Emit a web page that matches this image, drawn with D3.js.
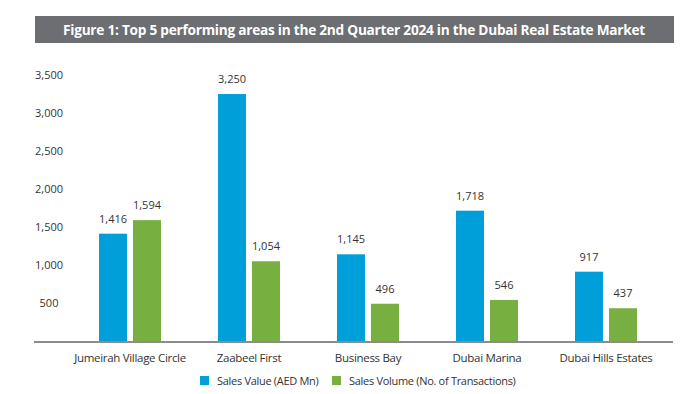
<!DOCTYPE html>
<html>
<head>
<meta charset="utf-8">
<script src="https://cdn.jsdelivr.net/npm/d3@7"></script>
<style>
  body { margin: 0; background: #fff; }
  svg { display: block; }
  .lbl { font-family: "Open Sans", sans-serif; fill: #333; }
</style>
</head>
<body>
<svg id="chart" width="698" height="394"></svg>
<script>
const areas = ['Jumeirah Village Circle', 'Zaabeel First', 'Business Bay', 'Dubai Marina', 'Dubai Hills Estates'];
const seriesNames = ['Sales Value (AED Mn)', 'Sales Volume (No. of Transactions)'];
const salesValue = [1416, 3250, 1145, 1718, 917];
const salesVolume = [1594, 1054, 496, 546, 437];
const yTicks = [500, 1000, 1500, 2000, 2500, 3000, 3500];
const titleText = 'Figure 1: Top 5 performing areas in the 2nd Quarter 2024 in the Dubai Real Estate Market';

const colors = ['#009fda', '#77b041'];
const fmt = d3.format(',');

const svg = d3.select('#chart');

// title bar
svg.append('rect')
  .attr('x', 35).attr('y', 16)
  .attr('width', 639).attr('height', 27)
  .attr('fill', '#6d6e71');
svg.append('text')
  .attr('x', 354).attr('y', 35)
  .attr('text-anchor', 'middle')
  .attr('fill', '#fff')
  .attr('font-family', '"Open Sans", sans-serif')
  .attr('font-weight', 'bold')
  .attr('font-size', 13.5)
  .attr('letter-spacing', -0.25)
  .attr('textLength', 582)
  .attr('lengthAdjust', 'spacingAndGlyphs')
  .text(titleText);

const x = d3.scaleBand().domain(areas).range([70.5, 665.5]);
const xSub = d3.scaleBand().domain(seriesNames).range([0, 62]).paddingInner(0.176);
const y = d3.scaleLinear().domain([0, 3500]).range([341.5, 75]);

// y axis labels
const yAxis = svg.append('g')
  .attr('transform', 'translate(49,0)')
  .call(d3.axisLeft(y).tickValues(yTicks).tickSize(0).tickPadding(0).tickFormat(fmt));
yAxis.select('.domain').remove();
yAxis.selectAll('text')
  .attr('class', 'lbl')
  .attr('text-anchor', 'middle')
  .attr('font-size', 11)
  .style('fill', '#333');

const rows = areas.map((a, i) => ({ area: a, values: [salesValue[i], salesVolume[i]] }));

const groups = svg.append('g').selectAll('g')
  .data(rows)
  .join('g')
  .attr('transform', d => `translate(${x(d.area) + x.bandwidth() / 2 - 31},0)`);

groups.selectAll('rect')
  .data(d => d.values.map((v, k) => ({ key: seriesNames[k], v, k })))
  .join('rect')
  .attr('x', d => xSub(d.key))
  .attr('y', d => y(d.v))
  .attr('width', xSub.bandwidth())
  .attr('height', d => y(0) - y(d.v))
  .attr('fill', d => colors[d.k]);

groups.selectAll('text')
  .data(d => d.values.map((v, k) => ({ key: seriesNames[k], v, k })))
  .join('text')
  .attr('class', 'lbl')
  .attr('x', d => xSub(d.key) + xSub.bandwidth() / 2)
  .attr('y', d => y(d.v) - 11)
  .attr('text-anchor', 'middle')
  .attr('font-size', 11)
  .text(d => fmt(d.v));

// baseline
svg.append('line')
  .attr('x1', 34).attr('x2', 673)
  .attr('y1', 342).attr('y2', 342)
  .attr('stroke', '#8c8c8c')
  .attr('stroke-width', 2);

// category labels
const xAxis = svg.append('g')
  .attr('transform', 'translate(0,342)')
  .call(d3.axisBottom(x).tickSize(0).tickPadding(0));
xAxis.select('.domain').remove();
xAxis.selectAll('text')
  .attr('class', 'lbl')
  .attr('dy', 0)
  .attr('y', 20)
  .attr('font-size', 11.5)
  .attr('letter-spacing', -0.3)
  .style('fill', '#333');

// legend
const legendX = [200, 332];
const legendW = [98, 158];
const legend = svg.append('g').selectAll('g')
  .data(seriesNames)
  .join('g')
  .attr('transform', (d, i) => `translate(${legendX[i]},376)`);
legend.append('rect')
  .attr('width', 9).attr('height', 9)
  .attr('fill', (d, i) => colors[i]);
legend.append('text')
  .attr('class', 'lbl')
  .attr('x', 17).attr('y', 8.5)
  .attr('font-size', 11)
  .attr('letter-spacing', -0.3)
  .text(d => d);
</script>
</body>
</html>
